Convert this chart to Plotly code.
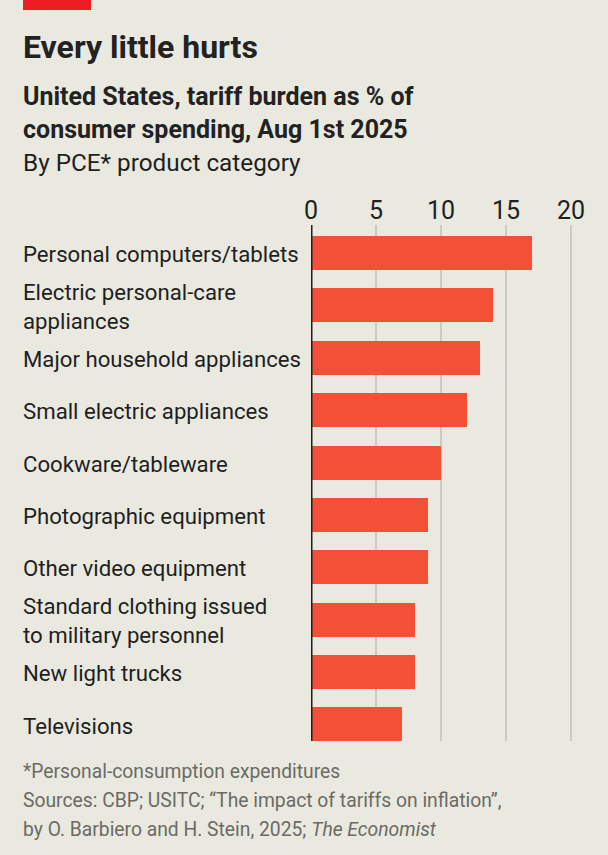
import plotly.graph_objects as go

categories = ["Personal computers/tablets", "Electric personal-care<br>appliances",
              "Major household appliances", "Small electric appliances",
              "Cookware/tableware", "Photographic equipment", "Other video equipment",
              "Standard clothing issued<br>to military personnel", "New light trucks", "Televisions"]
values = [17, 14, 13, 12, 10, 9, 9, 8, 8, 7]
ticks = [0, 5, 10, 15, 20]

W, H = 608, 855
BG = "#E9E9DF"
FONT = "Roboto"
INK = "#1F1F1F"
GREY = "#6B6B65"
L, R, T, B = 311, 584, 225, 741

def px(x): return (x - L) / (R - L)
def py(y): return (B - y) / (B - T)

fig = go.Figure(go.Bar(x=values, y=list(range(len(categories))), orientation="h", width=0.65,
                       marker=dict(color="#F44F37", line=dict(width=0)), hoverinfo="skip"))

fig.update_layout(
    width=W, height=H, paper_bgcolor=BG, plot_bgcolor=BG, showlegend=False,
    margin=dict(l=L, r=W - R, t=T, b=H - B), bargap=0,
    font=dict(family=FONT, color=INK),
    xaxis=dict(range=[0, 21], side="top", tickvals=ticks, showgrid=True, gridcolor="#CBCBC1", gridwidth=2,
               zeroline=False, showline=False, ticks="", tickfont=dict(size=25, color=INK)),
    yaxis=dict(range=[9.315, -0.534], showticklabels=False, showgrid=False, zeroline=False, ticks="", showline=False),
)
fig.add_shape(type="line", xref="x", yref="paper", x0=0, x1=0, y0=0, y1=1, line=dict(color=INK, width=3), layer="above")
fig.add_shape(type="rect", xref="paper", yref="paper", x0=px(23), x1=px(91), y0=py(10), y1=py(0),
              fillcolor="#EE1C25", line=dict(width=0))

for i, c in enumerate(categories):
    fig.add_annotation(text=c, xref="paper", yref="y", x=px(21), y=i, xanchor="left", yanchor="middle",
                       align="left", showarrow=False, yshift=-1, font=dict(size=22.2, color=INK))

def label(text, y, size, color=INK, weight="normal"):
    fig.add_annotation(text=text, xref="paper", yref="paper", x=px(21), y=py(y), xanchor="left", yanchor="middle",
                       align="left", showarrow=False, font=dict(size=size, color=color, weight=weight, family=FONT))

label("Every little hurts", 47, 32, "#222222", "bold")
label("United States, tariff burden as % of", 96, 25, "#222222", "bold")
label("consumer spending, Aug 1st 2025", 130, 25, "#222222", "bold")
label("By PCE* product category", 162, 24.3)
label("*Personal-consumption expenditures", 771, 19.3, GREY)
label("Sources: CBP; USITC; “The impact of tariffs on inflation”,", 800, 19.3, GREY)
label("by O. Barbiero and H. Stein, 2025; <i>The Economist</i>", 829, 19.3, GREY)

fig.write_html("out.html", config=dict(displayModeBar=False), post_script="document.body.style.margin='0';")
